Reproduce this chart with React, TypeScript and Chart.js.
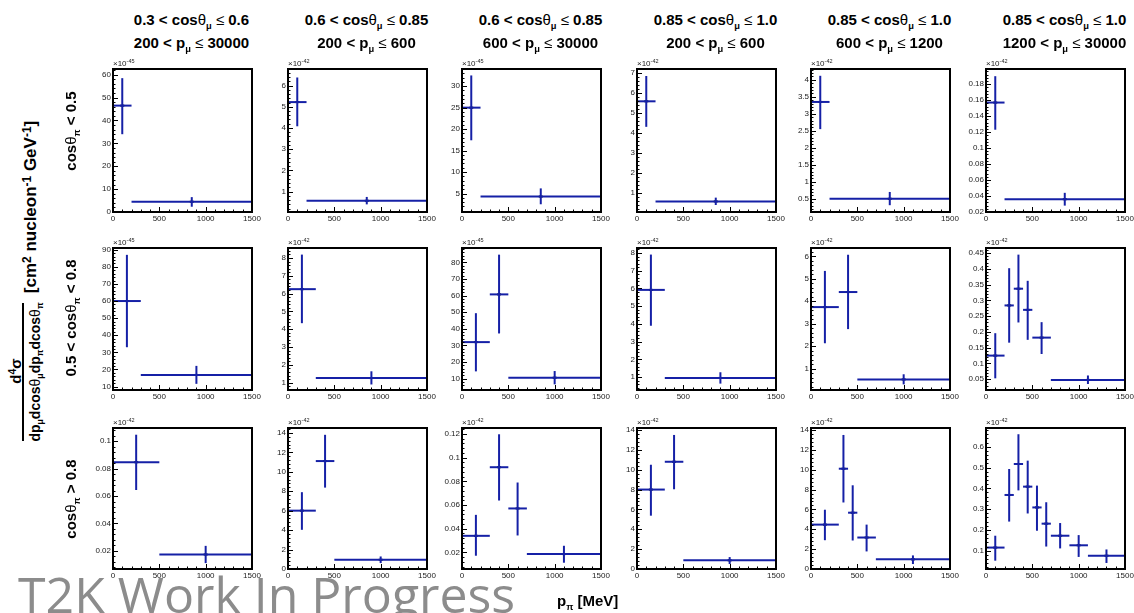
import React, { useEffect, useRef } from "react";
import { Chart, registerables } from "chart.js";

Chart.register(...registerables);

// ---------------- data ----------------
const xTickValues = [0, 500, 1000, 1500];

const colHeadLine1 = [
  ["0.3", "0.6"],
  ["0.6", "0.85"],
  ["0.6", "0.85"],
  ["0.85", "1.0"],
  ["0.85", "1.0"],
  ["0.85", "1.0"],
];
const colHeadLine2 = [
  ["200", "30000"],
  ["200", "600"],
  ["600", "30000"],
  ["200", "600"],
  ["600", "1200"],
  ["1200", "30000"],
];

// Row 1: cosθπ < 0.5
const p11Edges = [0, 200, 1500];
const p11Values = [46.5, 4.5];
const p11Low = [34, 2.3];
const p11High = [58.5, 6.5];
const p11YTicks = [0, 10, 20, 30, 40, 50, 60];
const p11YRange = [0, 62.5];

const p12Edges = [0, 200, 1500];
const p12Values = [5.22, 0.57];
const p12Low = [4.08, 0.4];
const p12High = [6.38, 0.75];
const p12YTicks = [1, 2, 3, 4, 5, 6];
const p12YRange = [0.04, 6.78];

const p13Edges = [0, 200, 1500];
const p13Values = [25, 4.3];
const p13Low = [17.4, 2.5];
const p13High = [32.5, 6.2];
const p13YTicks = [5, 10, 15, 20, 25, 30];
const p13YRange = [0.7, 34];

const p14Edges = [0, 200, 1500];
const p14Values = [5.58, 0.56];
const p14Low = [4.3, 0.38];
const p14High = [6.85, 0.75];
const p14YTicks = [1, 2, 3, 4, 5, 6, 7];
const p14YRange = [0.03, 7.2];

const p15Edges = [0, 200, 1500];
const p15Values = [3.35, 0.5];
const p15Low = [2.55, 0.31];
const p15High = [4.12, 0.7];
const p15YTicks = [0.5, 1, 1.5, 2, 2.5, 3, 3.5, 4];
const p15YRange = [0.11, 4.32];

const p16Edges = [0, 200, 1500];
const p16Values = [0.157, 0.036];
const p16Low = [0.123, 0.028];
const p16High = [0.19, 0.044];
const p16YTicks = [0.02, 0.04, 0.06, 0.08, 0.1, 0.12, 0.14, 0.16, 0.18];
const p16YRange = [0.02, 0.199];

// Row 2: 0.5 < cosθπ < 0.8
const p21Edges = [0, 300, 1500];
const p21Values = [60, 16.8];
const p21Low = [33, 11.6];
const p21High = [87, 22.1];
const p21YTicks = [10, 20, 30, 40, 50, 60, 70, 80, 90];
const p21YRange = [8, 91];

const p22Edges = [0, 300, 1500];
const p22Values = [6.25, 1.26];
const p22Low = [4.34, 0.9];
const p22High = [8.19, 1.64];
const p22YTicks = [1, 2, 3, 4, 5, 6, 7, 8];
const p22YRange = [0.59, 8.56];

const p23Edges = [0, 300, 500, 1500];
const p23Values = [32, 60.7, 10.6];
const p23Low = [14.4, 37.2, 6.6];
const p23High = [49.4, 84.6, 14.6];
const p23YTicks = [10, 20, 30, 40, 50, 60, 70, 80];
const p23YRange = [3.2, 88.6];

const p24Edges = [0, 300, 1500];
const p24Values = [5.92, 0.96];
const p24Low = [3.9, 0.64];
const p24High = [7.91, 1.28];
const p24YTicks = [1, 2, 3, 4, 5, 6, 7, 8];
const p24YRange = [0.28, 8.28];

const p25Edges = [0, 300, 500, 1500];
const p25Values = [3.74, 4.41, 0.52];
const p25Low = [2.13, 2.76, 0.3];
const p25High = [5.35, 6.07, 0.75];
const p25YTicks = [1, 2, 3, 4, 5, 6];
const p25YRange = [0.05, 6.37];

const p26Edges = [0, 200, 300, 400, 500, 700, 1500];
const p26Values = [0.125, 0.284, 0.337, 0.27, 0.182, 0.048];
const p26Low = [0.053, 0.166, 0.23, 0.175, 0.13, 0.035];
const p26High = [0.196, 0.402, 0.445, 0.362, 0.231, 0.062];
const p26YTicks = [0.05, 0.1, 0.15, 0.2, 0.25, 0.3, 0.35, 0.4, 0.45];
const p26YRange = [0.016, 0.466];

// Row 3: cosθπ > 0.8
const p31Edges = [0, 500, 1500];
const p31Values = [0.0847, 0.0173];
const p31Low = [0.0644, 0.011];
const p31High = [0.1048, 0.0236];
const p31YTicks = [0.02, 0.04, 0.06, 0.08, 0.1];
const p31YRange = [0.0067, 0.1097];

const p32Edges = [0, 300, 500, 1500];
const p32Values = [6.0, 11.1, 0.95];
const p32Low = [4.03, 8.37, 0.61];
const p32High = [7.9, 13.8, 1.29];
const p32YTicks = [0, 2, 4, 6, 8, 10, 12, 14];
const p32YRange = [0, 14.5];

const p33Edges = [0, 300, 500, 700, 1500];
const p33Values = [0.034, 0.0919, 0.0571, 0.0186];
const p33Low = [0.0172, 0.0638, 0.0343, 0.0113];
const p33High = [0.0517, 0.1197, 0.079, 0.0256];
const p33YTicks = [0.02, 0.04, 0.06, 0.08, 0.1, 0.12];
const p33YRange = [0.006, 0.125];

const p34Edges = [0, 300, 500, 1500];
const p34Values = [8.0, 10.8, 0.87];
const p34Low = [5.37, 8.03, 0.5];
const p34High = [10.5, 13.5, 1.2];
const p34YTicks = [0, 2, 4, 6, 8, 10, 12, 14];
const p34YRange = [0, 14.2];

const p35Edges = [0, 300, 400, 500, 700, 1500];
const p35Values = [4.47, 10.1, 5.67, 3.17, 0.97];
const p35Low = [2.9, 6.7, 2.87, 1.77, 0.5];
const p35High = [5.97, 13.5, 8.43, 4.47, 1.37];
const p35YTicks = [0, 2, 4, 6, 8, 10, 12, 14];
const p35YRange = [0, 14.2];

const p36Edges = [0, 200, 300, 400, 500, 600, 700, 900, 1100, 1500];
const p36Values = [0.115, 0.368, 0.517, 0.408, 0.308, 0.23, 0.172, 0.126, 0.076];
const p36Low = [0.052, 0.24, 0.39, 0.279, 0.196, 0.12, 0.111, 0.07, 0.041];
const p36High = [0.172, 0.493, 0.66, 0.533, 0.413, 0.333, 0.233, 0.175, 0.106];
const p36YTicks = [0.1, 0.2, 0.3, 0.4, 0.5, 0.6];
const p36YRange = [0.012, 0.69];

const rowExponents = [
  ["-45", "-42", "-45", "-42", "-42", "-42"],
  ["-45", "-42", "-45", "-42", "-42", "-42"],
  ["-42", "-42", "-42", "-42", "-42", "-42"],
];

// ---------------- layout / style ----------------
const FONT = '"Liberation Sans", Arial, Helvetica, sans-serif';
const BLUE = "#1520a6";
const COL_LEFT = [113, 288, 462, 637, 811, 986];
const FRAME_W = 139;
const ROW_TOP = [69, 248, 428];
const ROW_H = [143, 142, 141];
const YW = 34; // space for y labels
const PT = 8;
const PR = 14;
const XH = 13;

type PanelData = {
  edges: number[];
  values: number[];
  low: number[];
  high: number[];
  yTicks: number[];
  yRange: number[];
};

const mk = (edges: number[], values: number[], low: number[], high: number[], yTicks: number[], yRange: number[]): PanelData => ({ edges, values, low, high, yTicks, yRange });

const panelRows: PanelData[][] = [
  [
    mk(p11Edges, p11Values, p11Low, p11High, p11YTicks, p11YRange),
    mk(p12Edges, p12Values, p12Low, p12High, p12YTicks, p12YRange),
    mk(p13Edges, p13Values, p13Low, p13High, p13YTicks, p13YRange),
    mk(p14Edges, p14Values, p14Low, p14High, p14YTicks, p14YRange),
    mk(p15Edges, p15Values, p15Low, p15High, p15YTicks, p15YRange),
    mk(p16Edges, p16Values, p16Low, p16High, p16YTicks, p16YRange),
  ],
  [
    mk(p21Edges, p21Values, p21Low, p21High, p21YTicks, p21YRange),
    mk(p22Edges, p22Values, p22Low, p22High, p22YTicks, p22YRange),
    mk(p23Edges, p23Values, p23Low, p23High, p23YTicks, p23YRange),
    mk(p24Edges, p24Values, p24Low, p24High, p24YTicks, p24YRange),
    mk(p25Edges, p25Values, p25Low, p25High, p25YTicks, p25YRange),
    mk(p26Edges, p26Values, p26Low, p26High, p26YTicks, p26YRange),
  ],
  [
    mk(p31Edges, p31Values, p31Low, p31High, p31YTicks, p31YRange),
    mk(p32Edges, p32Values, p32Low, p32High, p32YTicks, p32YRange),
    mk(p33Edges, p33Values, p33Low, p33High, p33YTicks, p33YRange),
    mk(p34Edges, p34Values, p34Low, p34High, p34YTicks, p34YRange),
    mk(p35Edges, p35Values, p35Low, p35High, p35YTicks, p35YRange),
    mk(p36Edges, p36Values, p36Low, p36High, p36YTicks, p36YRange),
  ],
];

const fmt = (v: number) => String(parseFloat(Number(v).toFixed(6)));

const frameTicksPlugin = {
  id: "frameTicks",
  afterDraw(chart: any, _args: any, opts: any) {
    const { ctx, chartArea: a, scales } = chart;
    const x = scales.x;
    const y = scales.y;
    ctx.save();
    ctx.strokeStyle = "#000";
    ctx.lineWidth = 1;
    ctx.beginPath();
    for (let k = 0; k <= 15; k++) {
      const v = k * 100;
      const px = Math.round(x.getPixelForValue(v)) + 0.5;
      const len = k % 5 === 0 ? 5 : 2.5;
      ctx.moveTo(px, a.bottom);
      ctx.lineTo(px, a.bottom - len);
    }
    const major: number[] = opts.major;
    const step = major[1] - major[0];
    const minor = step / 5;
    const k0 = Math.ceil((y.min - major[0]) / minor - 1e-6);
    const k1 = Math.floor((y.max - major[0]) / minor + 1e-6);
    for (let k = k0; k <= k1; k++) {
      const v = major[0] + k * minor;
      const py = Math.round(y.getPixelForValue(v)) + 0.5;
      const isMajor = Math.abs(k % 5) === 0;
      const len = isMajor ? 5 : 2.5;
      ctx.moveTo(a.left, py);
      ctx.lineTo(a.left + len, py);
    }
    ctx.stroke();
    ctx.lineWidth = 2;
    ctx.strokeRect(a.left, a.top, a.right - a.left, a.bottom - a.top);
    ctx.restore();
  },
};

function Panel({ d, left, top, h }: { d: PanelData; left: number; top: number; h: number }) {
  const ref = useRef<HTMLCanvasElement>(null);
  const W = FRAME_W + YW + PR;
  const H = h + PT + XH;
  useEffect(() => {
    if (!ref.current) return;
    const datasets: any[] = [];
    const centers: { x: number; y: number }[] = [];
    for (let i = 0; i < d.values.length; i++) {
      const lo = d.edges[i];
      const hi = d.edges[i + 1];
      const c = (lo + hi) / 2;
      const v = d.values[i];
      datasets.push({
        data: [{ x: lo, y: v }, { x: hi, y: v }],
        showLine: true,
        borderColor: BLUE,
        borderWidth: 2,
        pointRadius: 0,
      });
      datasets.push({
        data: [{ x: c, y: d.low[i] }, { x: c, y: d.high[i] }],
        showLine: true,
        borderColor: BLUE,
        borderWidth: 2,
        pointRadius: 0,
      });
      centers.push({ x: c, y: v });
    }
    datasets.push({
      data: centers,
      showLine: false,
      pointStyle: "line",
      pointRadius: 2,
      pointBorderWidth: 2,
      pointBorderColor: "#000",
      pointBackgroundColor: "#000",
    });
    const tickFont = { family: FONT, size: 8 };
    const chart = new Chart(ref.current, {
      type: "scatter",
      data: { datasets },
      options: {
        animation: false,
        responsive: false,
        maintainAspectRatio: false,
        events: [],
        layout: { padding: { left: 0, top: PT, right: PR, bottom: 0 } },
        plugins: {
          legend: { display: false },
          tooltip: { enabled: false },
          frameTicks: { major: d.yTicks },
        } as any,
        scales: {
          x: {
            type: "linear",
            min: 0,
            max: 1500,
            grid: { display: false, drawTicks: false },
            border: { display: false },
            afterBuildTicks: (s: any) => {
              s.ticks = xTickValues.map((v) => ({ value: v }));
            },
            afterFit: (s: any) => {
              s.height = XH;
              s.paddingLeft = 0;
              s.paddingRight = 0;
            },
            ticks: {
              autoSkip: false,
              maxRotation: 0,
              minRotation: 0,
              padding: 2,
              color: "#222",
              font: tickFont,
              callback: (v: any) => fmt(v),
            },
          },
          y: {
            type: "linear",
            min: d.yRange[0],
            max: d.yRange[1],
            grid: { display: false, drawTicks: false },
            border: { display: false },
            afterBuildTicks: (s: any) => {
              s.ticks = d.yTicks.map((v) => ({ value: v }));
            },
            afterFit: (s: any) => {
              s.width = YW;
              s.paddingTop = 0;
              s.paddingBottom = 0;
            },
            ticks: {
              autoSkip: false,
              padding: 2,
              color: "#222",
              font: tickFont,
              callback: (v: any) => fmt(v),
            },
          },
        },
      } as any,
      plugins: [frameTicksPlugin as any],
    });
    return () => chart.destroy();
  }, []);
  return (
    <canvas
      ref={ref}
      width={W}
      height={H}
      style={{ position: "absolute", left: left - YW, top: top - PT, width: W, height: H }}
    />
  );
}

const sub = (t: string) => (
  <span style={{ fontSize: "0.62em", position: "relative", top: "0.38em" }}>{t}</span>
);
const sup = (t: string) => (
  <span style={{ fontSize: "0.7em", position: "relative", top: "-0.45em" }}>{t}</span>
);
const thin = (t: string) => <span style={{ fontWeight: "normal" }}>{t}</span>;

export default function App() {
  const headStyle: React.CSSProperties = {
    position: "absolute",
    width: 200,
    textAlign: "center",
    fontFamily: FONT,
    fontWeight: "bold",
    fontSize: 15,
    lineHeight: "18px",
    whiteSpace: "nowrap",
    color: "#000",
  };
  const rotStyle = (cx: number, cy: number, size = 15): React.CSSProperties => ({
    position: "absolute",
    left: cx,
    top: cy,
    transform: "translate(-50%, -50%) rotate(-90deg)",
    fontFamily: FONT,
    fontWeight: "bold",
    fontSize: size,
    lineHeight: "18px",
    whiteSpace: "nowrap",
    color: "#000",
  });
  const rowLabels = [
    <>cos{thin("θ")}{sub("π")} &lt; 0.5</>,
    <>0.5 &lt; cos{thin("θ")}{sub("π")} &lt; 0.8</>,
    <>cos{thin("θ")}{sub("π")} &gt; 0.8</>,
  ];
  const rowLabelY = [131, 318, 499];
  return (
    <div
      style={{
        position: "absolute",
        left: 0,
        top: 0,
        width: 1134,
        height: 613,
        overflow: "hidden",
        background: "#fff",
      }}
    >
      {panelRows.map((row, r) =>
        row.map((d, c) => (
          <Panel key={`p${r}${c}`} d={d} left={COL_LEFT[c]} top={ROW_TOP[r]} h={ROW_H[r]} />
        ))
      )}
      {panelRows.map((row, r) =>
        row.map((_d, c) => (
          <div
            key={`e${r}${c}`}
            style={{
              position: "absolute",
              left: COL_LEFT[c],
              top: ROW_TOP[r] - 10,
              fontFamily: FONT,
              fontSize: 8,
              lineHeight: "10px",
              color: "#222",
              whiteSpace: "nowrap",
            }}
          >
            ×10<span style={{ fontSize: 5.5, position: "relative", top: -3 }}>{rowExponents[r][c]}</span>
          </div>
        ))
      )}
      {colHeadLine1.map((h, c) => (
        <div key={`h1${c}`} style={{ ...headStyle, left: COL_LEFT[c] + FRAME_W / 2 + 9 - 100, top: 11 }}>
          {h[0]} &lt; cos{thin("θ")}{sub("μ")} {thin("≤")} {h[1]}
        </div>
      ))}
      {colHeadLine2.map((h, c) => (
        <div key={`h2${c}`} style={{ ...headStyle, left: COL_LEFT[c] + FRAME_W / 2 + 9 - 100, top: 34 }}>
          {h[0]} &lt; p{sub("μ")} {thin("≤")} {h[1]}
        </div>
      ))}
      {rowLabels.map((t, r) => (
        <div key={`r${r}`} style={rotStyle(72, rowLabelY[r])}>
          {t}
        </div>
      ))}
      {/* y axis title */}
      <div style={rotStyle(16, 371)}>
        d{sup("4")}σ
      </div>
      <div style={{ position: "absolute", left: 22, top: 303, width: 2, height: 138, background: "#000" }} />
      <div style={rotStyle(36, 372, 14)}>
        dp{sub("μ")}dcos{thin("θ")}{sub("μ")}dp{sub("π")}dcos{thin("θ")}{sub("π")}
      </div>
      <div style={rotStyle(31, 207, 17)}>
        [cm{sup("2")} nucleon{sup("-1")} GeV{sup("-1")}]
      </div>
      {/* x axis title */}
      <div style={{ position: "absolute", left: 557, top: 592, fontFamily: FONT, fontWeight: "bold", fontSize: 15, lineHeight: "18px", whiteSpace: "nowrap" }}>
        p{sub("π")} [MeV]
      </div>
      {/* watermark */}
      <div
        style={{
          position: "absolute",
          left: 18,
          top: 569,
          fontFamily: '"Open Sans", sans-serif',
          fontSize: 50,
          lineHeight: "50px",
          color: "#8c8c8c",
          whiteSpace: "nowrap",
        }}
      >
        T2K Work In Progress
      </div>
    </div>
  );
}
